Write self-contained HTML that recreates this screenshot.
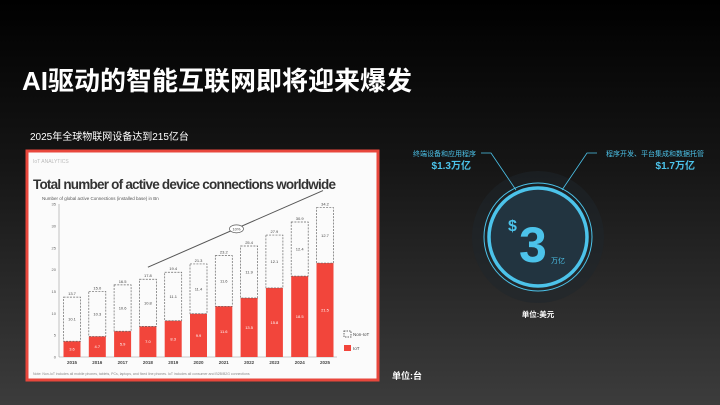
<!DOCTYPE html>
<html><head><meta charset="utf-8"><style>
body{margin:0}
#root{position:relative;width:720px;height:405px;overflow:hidden;background:linear-gradient(#000 0%,#151515 40%,#3c3c3c 100%);font-family:"Liberation Sans","Noto Sans CJK SC",sans-serif;color:#fff}
.a{position:absolute;white-space:nowrap}
</style></head><body>
<div id="root">
<div class="a" style="left:22px;top:61px;font-size:26px;font-weight:bold">AI驱动的智能互联网即将迎来爆发</div>
<div class="a" style="left:30px;top:128px;font-size:10px">2025年全球物联网设备达到215亿台</div>
<div class="a" style="left:392px;top:369px;font-size:9px;font-weight:bold">单位:台</div>
<svg class="a" style="left:0;top:0" width="720" height="405">
<rect x="27" y="151" width="351" height="229" fill="#fbfbfb" stroke="#e8473c" stroke-width="3"/>
<text x="33" y="163" font-size="5" fill="#bbb">IoT ANALYTICS</text>
<text x="33" y="189" font-size="13.5" font-weight="bold" fill="#333" textLength="303">Total number of active device connections worldwide</text>
<text x="42" y="200" font-size="4.5" fill="#555">Number of global active Connections (installed base) in Bn</text>
<g id="plot"></g>
<g id="legend">
<rect x="344" y="331" width="7" height="6" fill="none" stroke="#666" stroke-dasharray="1.5,1"/>
<text x="353" y="336" font-size="4.5" fill="#444">Non-IoT</text>
<rect x="344" y="345" width="7" height="6" fill="#f2453b"/>
<text x="353" y="350" font-size="4.5" fill="#444">IoT</text>
</g>
<text x="33" y="375" font-size="3.5" fill="#888">Note: Non-IoT includes all mobile phones, tablets, PCs, laptops, and fixed line phones. IoT includes all consumer and B2B/B2G connections</text>
<circle cx="538" cy="237" r="66" fill="#1d262b" opacity="0.5"/>
<circle cx="538" cy="237" r="54" fill="none" stroke="#4cc3ea" stroke-width="1"/>
<circle cx="538" cy="237" r="49" fill="#223440" stroke="#4cc3ea" stroke-width="3.5"/>
<text x="508" y="231" font-size="16" font-weight="bold" fill="#4cc3ea">$</text>
<text x="519" y="262" font-size="50" font-weight="bold" fill="#4cc3ea">3</text>
<text x="551" y="263" font-size="7" fill="#4cc3ea">万亿</text>
<polyline points="481,153 491,153 516,190" fill="none" stroke="#4cc3ea" stroke-width="0.8"/>
<polyline points="597,153 587,153 562,190" fill="none" stroke="#4cc3ea" stroke-width="0.8"/>
<text x="476" y="156" font-size="7" fill="#4cc3ea" text-anchor="end">终端设备和应用程序</text>
<text x="471" y="169" font-size="10" font-weight="bold" fill="#4cc3ea" text-anchor="end">$1.3万亿</text>
<text x="704" y="156" font-size="7" fill="#4cc3ea" text-anchor="end">程序开发、平台集成和数据托管</text>
<text x="695" y="169" font-size="10" font-weight="bold" fill="#4cc3ea" text-anchor="end">$1.7万亿</text>
<text x="538" y="317" font-size="7.5" font-weight="bold" fill="#fff" text-anchor="middle">单位:美元</text>
</svg>
</div>
<script>
const years=["2015","2016","2017","2018","2019","2020","2021","2022","2023","2024","2025"];
const iot=[3.6,4.7,5.9,7.0,8.3,9.9,11.6,13.5,15.8,18.5,21.5];
const nonIot=[10.1,10.3,10.6,10.8,11.1,11.4,11.6,11.9,12.1,12.4,12.7];
const yTicks=[0,5,10,15,20,25,30,35];
const NS="http://www.w3.org/2000/svg";
const g=document.getElementById('plot');
const y0=357,pxu=4.37,x0=72,step=25.3,bw=17;
const Y=v=>y0-v*pxu, X=i=>x0+i*step;
function mk(t,a){const e=document.createElementNS(NS,t);for(const k in a)e.setAttribute(k,a[k]);g.appendChild(e);return e;}
const ax=mk('line',{x1:59,y1:Y(0),x2:59,y2:Y(35),stroke:'#999','stroke-width':0.6});


const bx=mk('line',{x1:59,y1:Y(0),x2:X(10)+12,y2:Y(0),stroke:'#999','stroke-width':0.6});


yTicks.forEach(t=>{const e=mk('text',{x:56,y:Y(t)+1.5,'font-size':4,fill:'#666','text-anchor':'end'});e.textContent=t;

});
years.forEach((yr,i)=>{
 const tot=iot[i]+nonIot[i];
 const r=mk('rect',{x:X(i)-bw/2,y:Y(iot[i]),width:bw,height:iot[i]*pxu,fill:'#f2453b'});
 
 
 const n=mk('rect',{x:X(i)-bw/2,y:Y(tot),width:bw,height:nonIot[i]*pxu,fill:'none',stroke:'#666','stroke-width':0.7,'stroke-dasharray':'2,1.2'});
 
 
 const l=mk('text',{x:X(i),y:Y(0)+7,'font-size':4.5,'font-weight':'bold',fill:'#444','text-anchor':'middle'});l.textContent=yr;
 
 
 const tl=mk('text',{x:X(i),y:Y(tot)-2,'font-size':4,fill:'#444','text-anchor':'middle'});tl.textContent=tot.toFixed(1);
 
 
 const il=mk('text',{x:X(i),y:Y(iot[i]/2)+1.5,'font-size':4,fill:'#fff','text-anchor':'middle'});il.textContent=iot[i].toFixed(1);
 
 
 const nl=mk('text',{x:X(i),y:Y(iot[i]+nonIot[i]/2)+1.5,'font-size':4,fill:'#444','text-anchor':'middle'});nl.textContent=nonIot[i].toFixed(1);
 
 
});
const t3=iot[3]+nonIot[3],t10=iot[10]+nonIot[10];
const tr=mk('line',{x1:X(3),y1:Y(t3)-12,x2:X(10)-2,y2:Y(t10)-17,stroke:'#555','stroke-width':1});


const mx=(X(3)+X(10))/2,my=(Y(t3)-12+Y(t10)-17)/2;
const el=mk('ellipse',{cx:mx,cy:my,rx:7,ry:4,fill:'#fff',stroke:'#555','stroke-width':0.7});


const et=mk('text',{x:mx,y:my+1.5,'font-size':4,fill:'#444','text-anchor':'middle'});et.textContent='10%';


</script>
</body></html>
